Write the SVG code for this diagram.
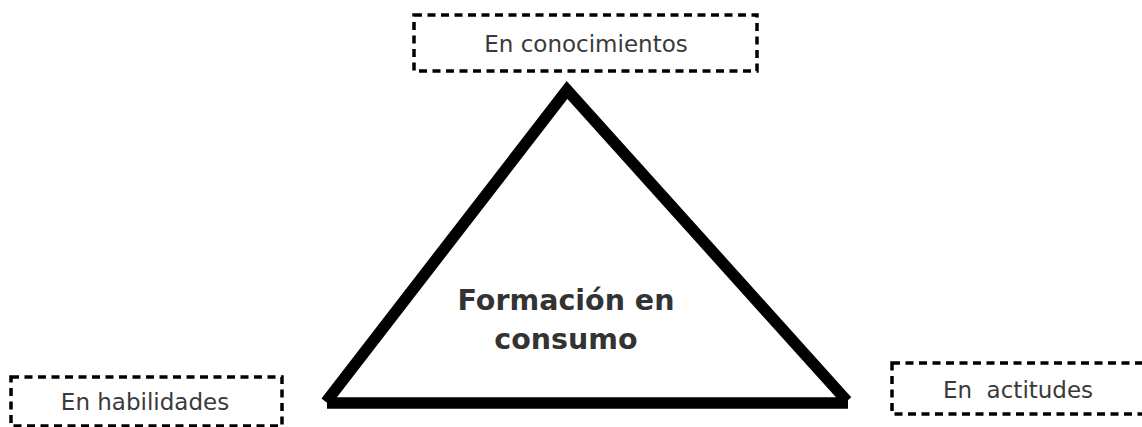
<svg xmlns="http://www.w3.org/2000/svg" width="1142" height="427" viewBox="0 0 1142 427">
<style>
.box{fill:none;stroke:#000;stroke-width:3.5;stroke-dasharray:8 5.5}
.lbl{font-family:"DejaVu Sans","Liberation Sans",sans-serif;font-size:23px;fill:#3a3a3a;text-anchor:middle}
.title{font-family:"DejaVu Sans","Liberation Sans",sans-serif;font-size:28.5px;font-weight:bold;fill:#333;text-anchor:middle}
.edge{fill:none;stroke:#000;stroke-width:11.5}
</style>
<rect width="1142" height="427" fill="#fff"/>
<g id="connectors">
<polyline class="edge" points="326,402 567,90 847,401" stroke-linejoin="miter"/>
<line class="edge" x1="327" y1="403" x2="848" y2="403"/>
</g>
<g id="node-formacion">
<text class="title" x="566" y="310">Formación en</text>
<text class="title" x="566" y="349">consumo</text>
</g>
<g id="node-conocimientos">
<rect class="box" x="414" y="15" width="343" height="56"/>
<text class="lbl" x="586" y="52">En conocimientos</text>
</g>
<g id="node-habilidades">
<rect class="box" x="11" y="377" width="271" height="49"/>
<text class="lbl" x="145" y="410">En habilidades</text>
</g>
<g id="node-actitudes">
<rect class="box" x="892" y="363" width="270" height="51"/>
<text class="lbl" x="1018" y="398" xml:space="preserve">En  actitudes</text>
</g>
</svg>
